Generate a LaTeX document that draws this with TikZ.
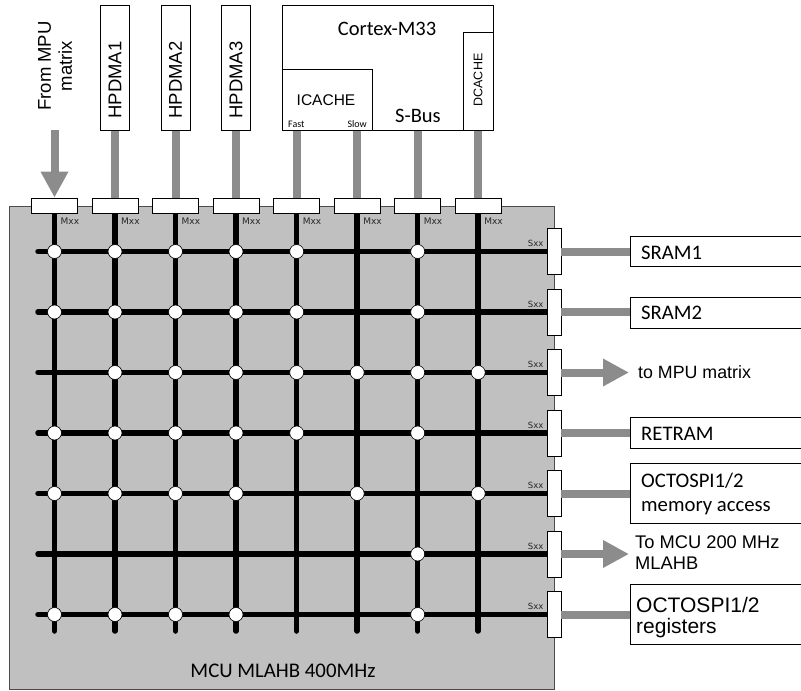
\documentclass[tikz,border=0pt]{standalone}
\usepackage{fontspec}
\setmainfont{Carlito}
\newfontfamily\arial{Liberation Sans}
\newfontfamily\tah{DejaVu Sans}
\usetikzlibrary{arrows.meta}
\definecolor{conn}{HTML}{8C8C8C}
\definecolor{matrixbg}{HTML}{C0C0C0}
\begin{document}
\begin{tikzpicture}[x=1pt,y=-1pt,
  box/.style={draw=black, line width=0.8pt, fill=white},
  bus/.style={line width=5.5pt, black, line cap=round},
  link/.style={line width=8pt, conn},
  xpt/.style={circle, draw=black, line width=0.6pt, fill=white, minimum size=14pt, inner sep=0pt},
  mbox/.style={box, minimum width=46pt, minimum height=15pt, inner sep=0pt},
  sbox/.style={box, minimum width=14pt, minimum height=46pt, inner sep=0pt},
  tinylbl/.style={font=\tah\fontsize{#1}{#1}\selectfont, text=black!85, inner sep=0pt},
  cal/.style={font=\fontsize{#1}{#1}\selectfont, inner sep=0pt},
  ari/.style={font=\arial\fontsize{#1}{#1}\selectfont, inner sep=0pt},
  rbox/.style={box, anchor=west, minimum width=190pt, inner sep=0pt},
  bigarrow/.style={link, -{Triangle[length=26pt,width=26pt]}},
]
\clip (0,0) rectangle (801,691);
\useasboundingbox (0,0) rectangle (801,691);

% matrix background
\node[fill=matrixbg, draw=black!70, line width=0.8pt, anchor=north west,
      minimum width=545pt, minimum height=483pt, inner sep=0pt] (mlahb) at (9,206) {};
\node[cal=20.8, anchor=base] (mlabel) at (283,677) {MCU MLAHB 400MHz};

% master ports (columns) and slave ports (rows) as coordinates
\foreach \x [count=\i] in {54.5,115,175.5,236,296.7,357.2,417.7,478.2}
  \coordinate (c\i) at (\x,205.5);
\foreach \y [count=\j] in {251.5,312,372.5,433,493.5,554,614.5}
  \coordinate (r\j) at (554,\y);

% buses
\foreach \i in {1,...,8} {
  \coordinate (vb\i) at (c\i |- 0,631);
  \draw[bus] (c\i) -- (vb\i);
}
\foreach \j in {1,...,7} {
  \coordinate (hb\j) at (38,0 |- r\j);
  \draw[bus] (hb\j) -- (r\j);
}

% crosspoints
\foreach \j/\cs in {1/{1,2,3,4,5,7}, 2/{1,2,3,4,5,7}, 3/{2,3,4,5,6,7,8},
                    4/{1,2,3,4,5,7}, 5/{1,2,3,4,6,8}, 6/{7}, 7/{1,2,3,4,7}}
  \foreach \i in \cs
    \node[xpt] (x\i-\j) at (c\i |- r\j) {};

% port boxes
\foreach \i in {1,...,8} {
  \node[mbox] (m\i) at (c\i) {};
  \node[tinylbl=9, anchor=base west] (ml\i) at ([shift={(6,11)}]m\i.south) {Mxx};
}
\foreach \j in {1,...,7} {
  \node[sbox] (s\j) at (r\j) {};
  \node[tinylbl=8.5, anchor=base east] (sl\j) at ([shift={(-3,-5)}]s\j.west) {Sxx};
}

% top masters
\foreach \i/\t in {2/HPDMA1,3/HPDMA2,4/HPDMA3} {
  \node[box, anchor=north, minimum width=29pt, minimum height=125pt, inner sep=0pt] (h\i) at (c\i |- 0,5) {};
  \node[ari=18.5, rotate=90] (ht\i) at (c\i |- 0,80) {\t};
  \draw[link] (h\i.south) -- (m\i.north);
}

% Cortex-M33
\node[box, anchor=north west, minimum width=211pt, minimum height=125pt, inner sep=0pt] (cm) at (282,5) {};
\node[box, anchor=north west, minimum width=90pt, minimum height=61pt, inner sep=0pt] (ic) at (282,69) {};
\node[box, anchor=north west, minimum width=30pt, minimum height=98pt, inner sep=0pt] (dc) at (463,32) {};
\node[cal=20.5, anchor=base] (cmt) at (387,35) {Cortex-M33};
\node[ari=15.5, anchor=base] (ict) at (326,105) {ICACHE};
\node[cal=10, anchor=base west] (fast) at (288,127) {Fast};
\node[cal=10, anchor=base east] (slow) at (367,127) {Slow};
\node[cal=20.5, anchor=base] (sbus) at (418,122) {S-Bus};
\node[ari=12.5, rotate=90] (dct) at (478,80) {DCACHE};
\draw[link] (m5.north) -- (m5.north |- ic.south);
\draw[link] (m6.north) -- (m6.north |- ic.south);
\draw[link] (m7.north) -- (m7.north |- cm.south);
\draw[link] (m8.north) -- (m8.north |- dc.south);

% From MPU matrix
\node[rotate=90, align=center, inner sep=0pt, font=\arial\fontsize{18.5}{21}\selectfont] (fmt) at (55,66) {From MPU\\matrix};
\coordinate (fmpu) at (c1 |- 0,130);
\draw[bigarrow] (fmpu) -- (m1.north);

% slaves
\node[rbox, minimum height=30pt] (sram1) at (630,251.5) {};
\node[rbox, minimum height=31pt] (sram2) at (630,312.5) {};
\node[rbox, minimum height=31pt] (retram) at (630,432.5) {};
\node[rbox, minimum height=60pt] (ospm) at (630,493) {};
\node[rbox, minimum height=60pt] (ospr) at (630,614) {};
\draw[link] (s1.east) -- (s1.east -| sram1.west);
\draw[link] (s2.east) -- (s2.east -| sram2.west);
\draw[link] (s4.east) -- (s4.east -| retram.west);
\draw[link] (s5.east) -- (s5.east -| ospm.west);
\draw[link] (s7.east) -- (s7.east -| ospr.west);
\coordinate (tompu) at (629,372.5);
\coordinate (tomcu) at (629,554);
\draw[bigarrow] (s3.east) -- (tompu);
\draw[bigarrow] (s6.east) -- (tomcu);

\node[cal=20.7, anchor=base west] (t1) at (641,259) {SRAM1};
\node[cal=20.7, anchor=base west] (t2) at (641,319.5) {SRAM2};
\node[cal=20.7, anchor=base west] (t4) at (641,440) {RETRAM};
\node[cal=20.7, anchor=base west] (t5a) at (641,487) {OCTOSPI1/2};
\node[cal=20.7, anchor=base west] (t5b) at (641,511) {memory access};
\node[ari=17.8, anchor=base west] (t3) at (638,378) {to MPU matrix};
\node[ari=18.3, anchor=base west] (t6a) at (635,548) {To MCU 200 MHz};
\node[ari=18.3, anchor=base west] (t6b) at (635,569) {MLAHB};
\node[ari=21, anchor=base west] (t7a) at (636,612) {OCTOSPI1/2};
\node[ari=21, anchor=base west] (t7b) at (636,633) {registers};
\end{tikzpicture}
\end{document}
